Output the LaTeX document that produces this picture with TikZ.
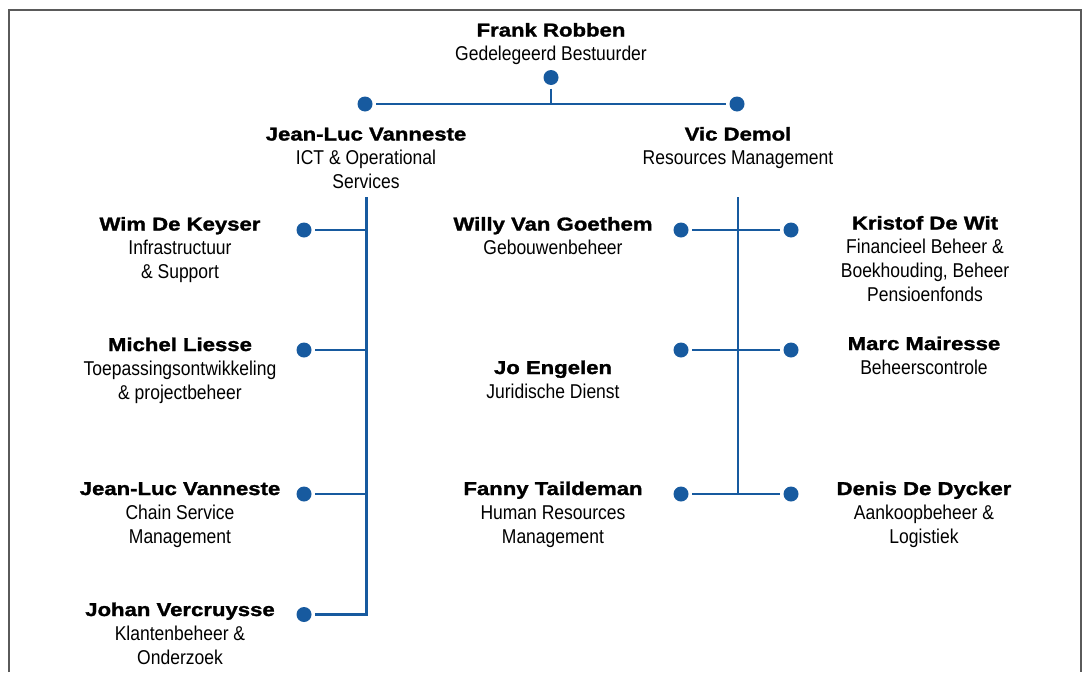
\documentclass[tikz,border=0pt]{standalone}
\usepackage{fontspec}
\setmainfont{Liberation Sans}
\newfontfamily\namefont[FakeStretch=1.19,FakeBold=1.5]{Liberation Sans}
\newfontfamily\rolefont[FakeStretch=0.875]{Liberation Sans}
\definecolor{orgblue}{HTML}{175A9F}
\definecolor{framegray}{HTML}{5A5A5A}
\newcommand{\nm}[1]{{\namefont\bfseries\fontsize{18.6}{24}\selectfont #1}}
\tikzset{
  person/.style={align=center, anchor=base, inner sep=0pt, font=\rolefont\fontsize{20}{24}\selectfont},
  dot/.style={circle, fill=orgblue, minimum size=15pt, inner sep=0pt, outer sep=3.5pt},
  conn/.style={draw=orgblue, line width=2.6pt},
  frame/.style={draw=framegray, line width=1.5pt}
}
\begin{document}
\begin{tikzpicture}[x=1pt,y=-1pt]
\useasboundingbox (0,0) rectangle (1086,672);
\draw[frame] (9,672) -- (9,10) -- (1081,10) -- (1081,672);

% texts (anchored at the baseline of the last line)
\node[person] (frank) at (551,60.5) {\nm{Frank Robben}\\Gedelegeerd Bestuurder};
\node[person] (jlv) at (366,188.5) {\nm{Jean-Luc Vanneste}\\ICT \& Operational\\Services};
\node[person] (vic) at (738,164.5) {\nm{Vic Demol}\\Resources Management};
\node[person] (wim) at (180,278.5) {\nm{Wim De Keyser}\\Infrastructuur\\\& Support};
\node[person] (michel) at (180,399) {\nm{Michel Liesse}\\Toepassingsontwikkeling\\\& projectbeheer};
\node[person] (jlv2) at (180,543) {\nm{Jean-Luc Vanneste}\\Chain Service\\Management};
\node[person] (johan) at (180,664) {\nm{Johan Vercruysse}\\Klantenbeheer \&\\Onderzoek};
\node[person] (willy) at (553,254.5) {\nm{Willy Van Goethem}\\Gebouwenbeheer};
\node[person] (jo) at (553,398) {\nm{Jo Engelen}\\Juridische Dienst};
\node[person] (fanny) at (553,543) {\nm{Fanny Taildeman}\\Human Resources\\Management};
\node[person] (kristof) at (925,301.5) {\nm{Kristof De Wit}\\Financieel Beheer \&\\Boekhouding, Beheer\\Pensioenfonds};
\node[person] (marc) at (924,374) {\nm{Marc Mairesse}\\Beheerscontrole};
\node[person] (denis) at (924,543) {\nm{Denis De Dycker}\\Aankoopbeheer \&\\Logistiek};

% dots
\node[dot] (d0) at (551,77.5) {};
\node[dot] (dL) at (365,104) {};
\node[dot] (dR) at (737,104) {};
\node[dot] (dWim) at (304,230) {};
\node[dot] (dMichel) at (304,350) {};
\node[dot] (dJlv) at (304,494) {};
\node[dot] (dJohan) at (304,614.5) {};
\node[dot] (dWilly) at (681,230) {};
\node[dot] (dKristof) at (791,230) {};
\node[dot] (dJo) at (681,350) {};
\node[dot] (dMarc) at (791,350) {};
\node[dot] (dFanny) at (681,494) {};
\node[dot] (dDenis) at (791,494) {};

% coordinates
\coordinate (t0) at (551,104);
\coordinate (lt) at (366.5,197);
\coordinate (l1) at (366.5,230);
\coordinate (l2) at (366.5,350);
\coordinate (l3) at (366.5,494);
\coordinate (lb) at (366.5,614.5);
\coordinate (rt) at (738,197);
\coordinate (rb) at (738,494);

% connectors
\draw[conn] (d0) -- (t0);
\draw[conn] (dL) -- (dR);
\draw[conn] (lt) -- (lb) -- (dJohan);
\draw[conn] (dWim) -- (l1);
\draw[conn] (dMichel) -- (l2);
\draw[conn] (dJlv) -- (l3);
\draw[conn] (rt) -- (rb);
\draw[conn] (dWilly) -- (dKristof);
\draw[conn] (dJo) -- (dMarc);
\draw[conn] (dFanny) -- (dDenis);
\end{tikzpicture}
\end{document}
